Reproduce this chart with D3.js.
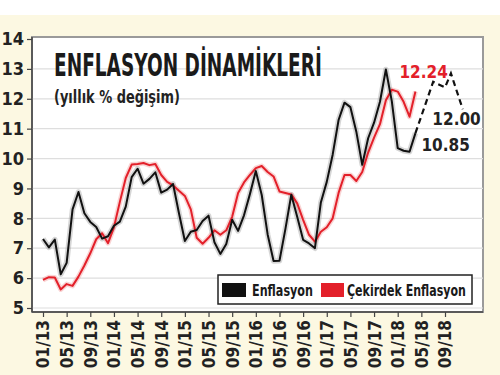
<!DOCTYPE html>
<html>
<head>
<meta charset="utf-8">
<script src="https://cdn.jsdelivr.net/npm/d3@7"></script>
<style>
  body { margin: 0; background: #fff; }
  svg { display: block; }
</style>
</head>
<body>
<div id="chart"></div>
<script>
// ---- DATA (annual % change, monthly from 01/13) ----
const startMonth = "01/13";
const enflasyon = [
  7.31, 7.03, 7.29, 6.13, 6.51, 8.30, 8.88, 8.17, 7.88, 7.71, 7.32, 7.40,
  7.75, 7.89, 8.39, 9.38, 9.66, 9.16, 9.32, 9.54, 8.86, 8.96, 9.15, 8.17,
  7.24, 7.55, 7.61, 7.91, 8.09, 7.20, 6.81, 7.14, 7.95, 7.58, 8.10, 8.81,
  9.58, 8.78, 7.46, 6.57, 6.58, 7.64, 8.79, 8.05, 7.28, 7.16, 7.00, 8.53,
  9.22, 10.13, 11.29, 11.87, 11.72, 10.90, 9.79, 10.68, 11.20, 11.90, 12.98, 11.92,
  10.35, 10.26, 10.23, 10.85
];
const cekirdek = [
  5.94, 6.03, 6.02, 5.62, 5.80, 5.74, 6.05, 6.42, 6.83, 7.30, 7.50, 7.17,
  7.70, 8.55, 9.35, 9.80, 9.82, 9.85, 9.78, 9.82, 9.45, 9.22, 9.10, 8.92,
  8.75, 8.30, 7.35, 7.15, 7.35, 7.60, 7.45, 7.60, 8.05, 8.85, 9.20, 9.45,
  9.68, 9.75, 9.55, 9.40, 8.90, 8.85, 8.80, 8.50, 7.95, 7.45, 7.22, 7.55,
  7.70, 8.00, 8.85, 9.45, 9.45, 9.25, 9.55, 10.20, 10.70, 11.15, 11.95, 12.30,
  12.24, 11.90, 11.40, 12.24
];
const forecastMonths = ["04/18", "07/18", "09/18", "10/18", "12/18"];
const forecastValues = [10.85, 12.57, 12.38, 12.85, 11.65];
const xTickLabels = ["01/13","05/13","09/13","01/14","05/14","09/14","01/15","05/15","09/15",
  "01/16","05/16","09/16","01/17","05/17","09/17","01/18","05/18","09/18"];
const yTicks = [5, 6, 7, 8, 9, 10, 11, 12, 13, 14];
const seriesNames = ["Enflasyon", "Çekirdek Enflasyon"];
const labelValues = { red: "12.24", end: "12.00", last: "10.85" };

(function() {
  const width = 500, height = 375;
  const plot = { left: 32, top: 37, right: 483, bottom: 312 };
  const font = "'Liberation Sans Narrow', 'DejaVu Sans Condensed', 'Arial Narrow', sans-serif";

  const monthIndex = s => {
    const [m, yy] = s.split("/").map(Number);
    const [m0, y0] = startMonth.split("/").map(Number);
    return (yy - y0) * 12 + (m - m0);
  };

  // squeeze a text horizontally so it spans the given width
  function fitText(sel, px, py, w) {
    const len = sel.node().getComputedTextLength();
    sel.attr("x", 0).attr("y", 0)
      .attr("transform", `translate(${px},${py}) scale(${w / len},1)`);
  }

  const x = d3.scaleLinear().domain([0, 68]).range([43, 445]);
  const y = d3.scaleLinear().domain([5, 14]).range([308, 39]);

  const svg = d3.select("#chart").append("svg")
    .attr("width", width)
    .attr("height", height)
    .style("font-family", font);

  // cream page background
  svg.append("rect")
    .attr("x", 0).attr("y", 15)
    .attr("width", width).attr("height", height - 15)
    .attr("fill", "#fcf8e2");

  // plot area
  svg.append("rect")
    .attr("x", plot.left).attr("y", plot.top)
    .attr("width", plot.right - plot.left).attr("height", plot.bottom - plot.top)
    .attr("fill", "#fff")
    .attr("stroke", "#9a9a9a")
    .attr("stroke-width", 2);

  // gridlines
  svg.append("g").selectAll("line")
    .data(yTicks.filter(d => d < 14))
    .join("line")
    .attr("x1", plot.left).attr("x2", plot.right)
    .attr("y1", d => y(d)).attr("y2", d => y(d))
    .attr("stroke", "#dedede")
    .attr("stroke-width", 1.2);

  // ---- AXES ----
  const yAxis = svg.append("g")
    .attr("transform", `translate(${plot.left},0)`)
    .call(d3.axisLeft(y).tickValues(yTicks).tickSize(5).tickPadding(3).tickFormat(d3.format("d")));
  yAxis.select(".domain").attr("d", `M0,${plot.top}V${plot.bottom}`).attr("stroke", "#444").attr("stroke-width", 1.5);
  yAxis.selectAll(".tick line").attr("stroke", "#444").attr("stroke-width", 1.2);
  yAxis.selectAll("text")
    .style("font-family", font)
    .style("font-size", "18px")
    .style("font-weight", "bold")
    .attr("fill", "#222");

  const xAxis = svg.append("g")
    .attr("transform", `translate(0,${plot.bottom})`)
    .call(d3.axisBottom(x)
      .tickValues(xTickLabels.map(monthIndex))
      .tickSize(5)
      .tickFormat((d, i) => xTickLabels[i]));
  xAxis.select(".domain").attr("d", `M${plot.left},0H${plot.right}`).attr("stroke", "#444").attr("stroke-width", 1.5);
  xAxis.selectAll(".tick line").attr("stroke", "#444").attr("stroke-width", 1.2);
  xAxis.selectAll("text")
    .attr("transform", "rotate(-90)")
    .attr("text-anchor", "end")
    .attr("x", -8)
    .attr("y", 0)
    .attr("dy", "0.35em")
    .style("font-family", font)
    .style("font-size", "17px")
    .style("font-weight", "bold")
    .attr("fill", "#222");

  // ---- LINES ----
  const line = d3.line()
    .x(d => x(d[0]))
    .y(d => y(d[1]));

  const blackPts = enflasyon.map((v, i) => [i, v]);
  const redPts = cekirdek.map((v, i) => [i, v]);
  const fcPts = forecastMonths.map((m, i) => [monthIndex(m), forecastValues[i]]);

  const lines = svg.append("g");
  // soft halos
  lines.append("path").datum(redPts).attr("d", line)
    .attr("fill", "none").attr("stroke", "#f2a0a0").attr("stroke-width", 5)
    .attr("stroke-opacity", 0.45).attr("stroke-linejoin", "round");
  lines.append("path").datum(blackPts).attr("d", line)
    .attr("fill", "none").attr("stroke", "#999").attr("stroke-width", 5.5)
    .attr("stroke-opacity", 0.4).attr("stroke-linejoin", "round");

  lines.append("path").datum(redPts).attr("d", line)
    .attr("fill", "none").attr("stroke", "#e3202a").attr("stroke-width", 2)
    .attr("stroke-linejoin", "round");
  lines.append("path").datum(blackPts).attr("d", line)
    .attr("fill", "none").attr("stroke", "#111").attr("stroke-width", 2)
    .attr("stroke-linejoin", "round");
  lines.append("path").datum(fcPts).attr("d", line)
    .attr("fill", "none").attr("stroke", "#111").attr("stroke-width", 2.2)
    .attr("stroke-dasharray", "6,4");

  // ---- VALUE LABELS ----
  const lastRed = redPts[redPts.length - 1];
  const lastBlack = blackPts[blackPts.length - 1];
  const lastFc = fcPts[fcPts.length - 1];

  svg.append("text")
    .attr("x", x(lastRed[0]) - 16).attr("y", y(lastRed[1]) - 14)
    .attr("fill", "#e3202a")
    .style("font-size", "17px").style("font-weight", "bold")
    .text(labelValues.red);

  svg.append("text")
    .attr("x", x(lastBlack[0]) + 6).attr("y", y(lastBlack[1]) + 18)
    .attr("fill", "#222")
    .style("font-size", "17px").style("font-weight", "bold")
    .text(labelValues.last);

  svg.append("text")
    .attr("x", x(lastFc[0]) + 18).attr("y", y(lastFc[1]) + 16)
    .attr("text-anchor", "end")
    .attr("fill", "#222")
    .style("font-size", "17px").style("font-weight", "bold")
    .text(labelValues.end);

  // ---- TITLE ----
  svg.append("text")
    .attr("fill", "#1a1a1a")
    .style("font-size", "32px").style("font-weight", "bold")
    .text("ENFLASYON DİNAMİKLERİ")
    .call(fitText, 54, 76, 268);

  svg.append("text")
    .attr("fill", "#222")
    .style("font-size", "18px").style("font-weight", "bold")
    .text("(yıllık % değişim)")
    .call(fitText, 54, 103, 126);

  // ---- LEGEND ----
  const legend = svg.append("g");
  legend.append("rect")
    .attr("x", 218).attr("y", 275).attr("width", 254).attr("height", 29)
    .attr("fill", "#fff").attr("stroke", "#222").attr("stroke-width", 1.5);

  const legendItems = [
    { name: seriesNames[0], color: "#111", sx: 222, sw: 24, tx: 252, tw: 61 },
    { name: seriesNames[1], color: "#e3202a", sx: 321, sw: 23, tx: 347, tw: 119 }
  ];
  legend.selectAll("rect.sw")
    .data(legendItems)
    .join("rect")
    .attr("class", "sw")
    .attr("x", d => d.sx).attr("y", 283)
    .attr("width", d => d.sw).attr("height", 14)
    .attr("fill", d => d.color);
  legend.selectAll("text")
    .data(legendItems)
    .join("text")
    .attr("fill", "#1a1a1a")
    .style("font-size", "15px").style("font-weight", "bold")
    .text(d => d.name)
    .each(function(d) { fitText(d3.select(this), d.tx, 296, d.tw); });
})();
</script>
</body>
</html>
